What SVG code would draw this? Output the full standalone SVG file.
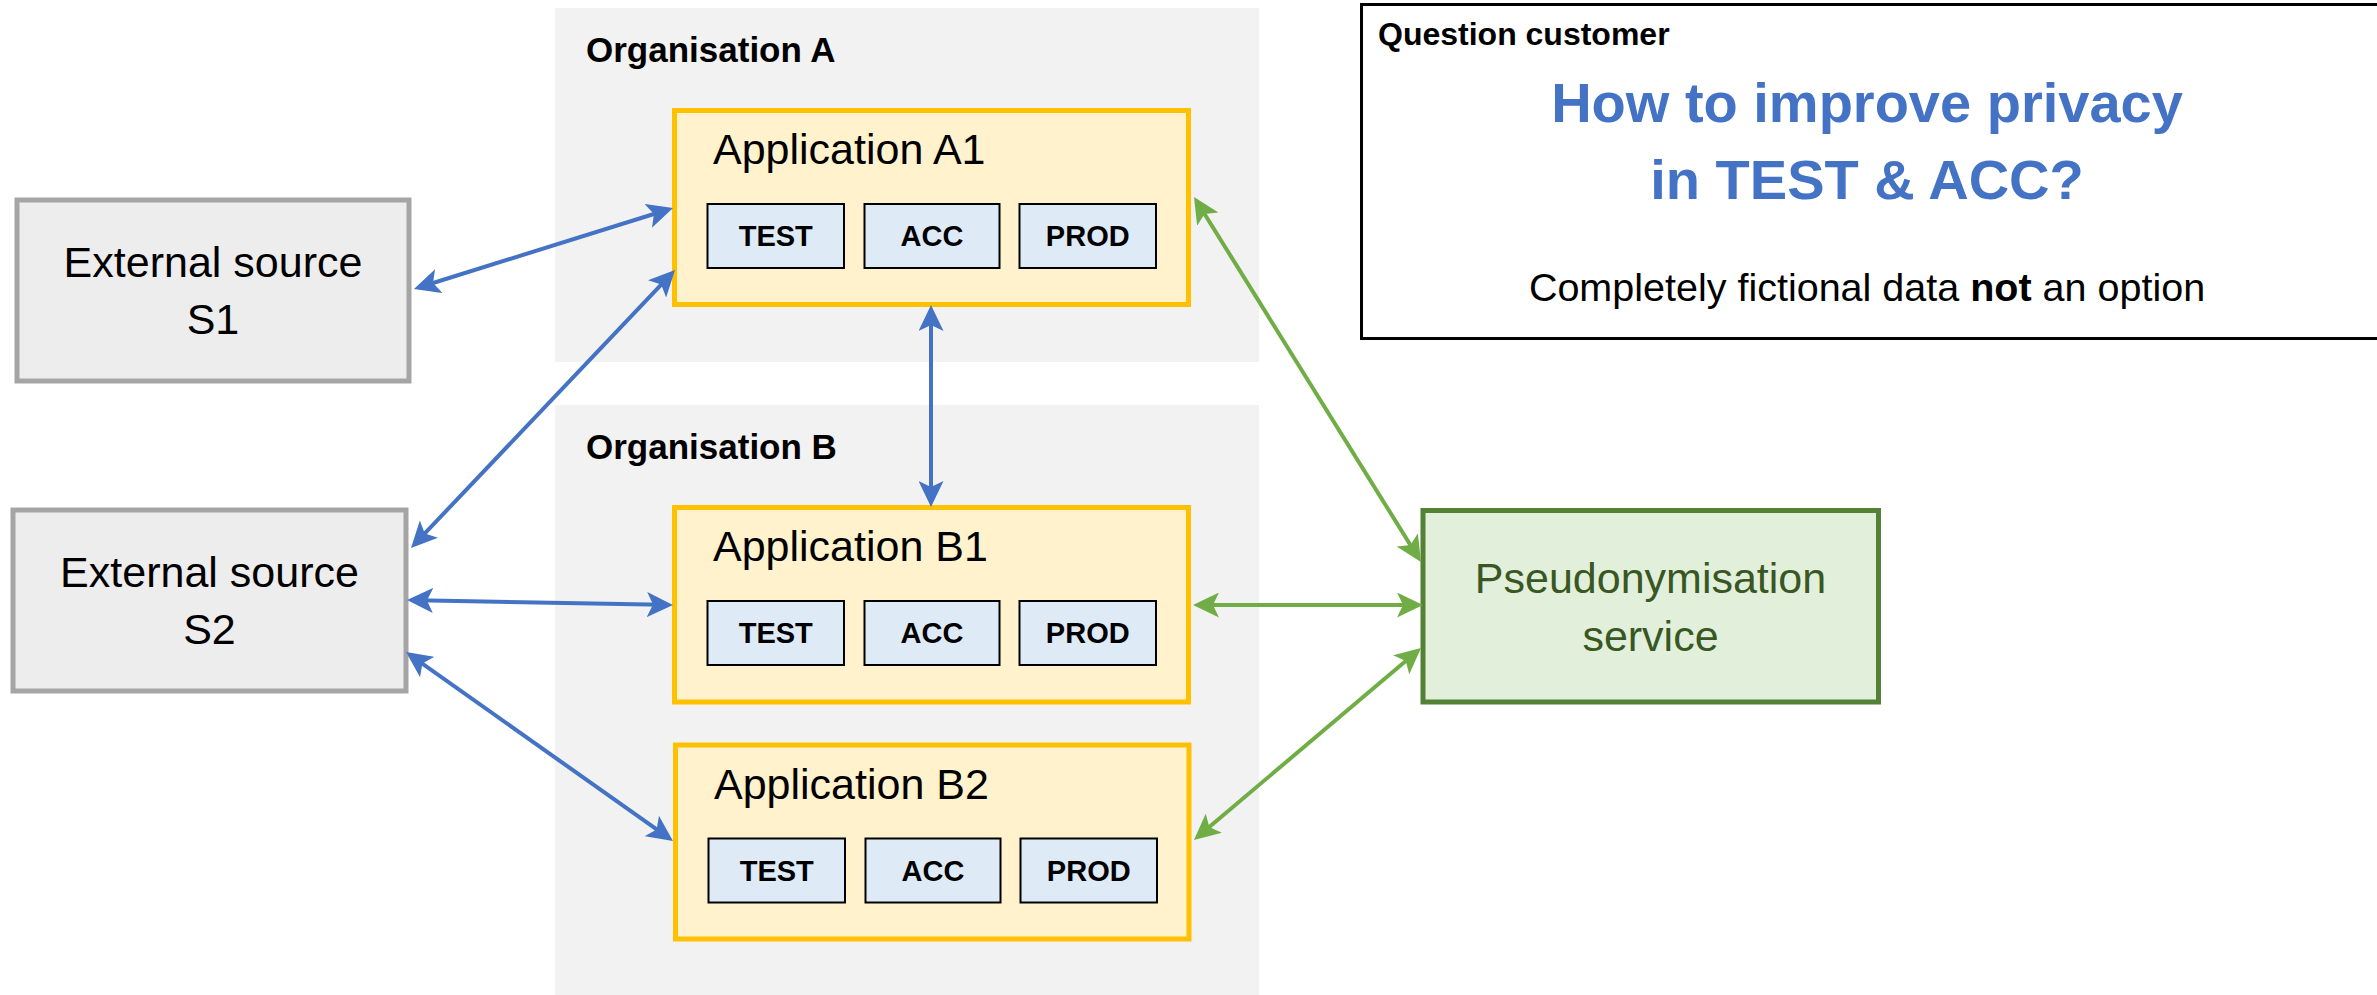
<svg xmlns="http://www.w3.org/2000/svg" width="2377" height="995" viewBox="0 0 2377 995">
<style>
text{font-family:"Liberation Sans",Arial,sans-serif;fill:#000}
.org{fill:#F2F2F2}
.orgl{font-size:35px;font-weight:bold}
.app{fill:#FFF2CC;stroke:#FFC000;stroke-width:5}
.appl{font-size:43px}
.env{fill:#DEEBF7;stroke:#000;stroke-width:2}
.envl{font-size:29px;font-weight:bold;text-anchor:middle}
.ext{fill:#EDEDED;stroke:#A5A5A5;stroke-width:5}
.extl{font-size:43px;text-anchor:middle}
.ps{fill:#E2EFDA;stroke:#538135;stroke-width:5}
.psl{font-size:43px;text-anchor:middle;fill:#385723}
.blue{stroke:#4472C4;stroke-width:4;fill:none;marker-start:url(#ab);marker-end:url(#ab)}
.green{stroke:#70AD47;stroke-width:4;fill:none;marker-start:url(#ag);marker-end:url(#ag)}
</style>
<defs>
<marker id="ab" viewBox="0 0 26 25" refX="16" refY="12.5" markerUnits="userSpaceOnUse" markerWidth="26" markerHeight="25" orient="auto-start-reverse">
<path d="M0,0 L26,12.5 L0,25 L6,12.5 z" fill="#4472C4"/>
</marker>
<marker id="ag" viewBox="0 0 26 25" refX="16" refY="12.5" markerUnits="userSpaceOnUse" markerWidth="26" markerHeight="25" orient="auto-start-reverse">
<path d="M0,0 L26,12.5 L0,25 L6,12.5 z" fill="#70AD47"/>
</marker>
</defs>
<rect width="2377" height="995" fill="#FFFFFF"/>
<g id="orgA">
<rect class="org" x="555" y="8" width="704" height="354"/>
<text class="orgl" x="586" y="62">Organisation A</text>
</g>
<g id="orgB">
<rect class="org" x="555" y="405" width="704" height="590"/>
<text class="orgl" x="586" y="459">Organisation B</text>
</g>
<g id="appA1">
<rect class="app" x="674.5" y="110.5" width="514" height="194"/>
<text class="appl" x="713" y="164">Application A1</text>
<rect class="env" x="707.5" y="204" width="136.5" height="64"/>
<text class="envl" x="775.75" y="246">TEST</text>
<rect class="env" x="864.5" y="204" width="135" height="64"/>
<text class="envl" x="932" y="246">ACC</text>
<rect class="env" x="1019.5" y="204" width="136.5" height="64"/>
<text class="envl" x="1087.75" y="246">PROD</text>
</g>
<g id="appB1">
<rect class="app" x="674.5" y="507.5" width="514" height="194.5"/>
<text class="appl" x="713" y="561">Application B1</text>
<rect class="env" x="707.5" y="601" width="136.5" height="64"/>
<text class="envl" x="775.75" y="643">TEST</text>
<rect class="env" x="864.5" y="601" width="135" height="64"/>
<text class="envl" x="932" y="643">ACC</text>
<rect class="env" x="1019.5" y="601" width="136.5" height="64"/>
<text class="envl" x="1087.75" y="643">PROD</text>
</g>
<g id="appB2">
<rect class="app" x="675.5" y="745" width="513.5" height="194"/>
<text class="appl" x="714" y="798.5">Application B2</text>
<rect class="env" x="708.5" y="838.5" width="136.5" height="64"/>
<text class="envl" x="776.75" y="880.5">TEST</text>
<rect class="env" x="865.5" y="838.5" width="135" height="64"/>
<text class="envl" x="933" y="880.5">ACC</text>
<rect class="env" x="1020.5" y="838.5" width="136.5" height="64"/>
<text class="envl" x="1088.75" y="880.5">PROD</text>
</g>
<g id="extS1">
<rect class="ext" x="17" y="200" width="392" height="181"/>
<text class="extl" x="213" y="277">External source</text>
<text class="extl" x="213" y="334">S1</text>
</g>
<g id="extS2">
<rect class="ext" x="13" y="510" width="393" height="181"/>
<text class="extl" x="209.5" y="587">External source</text>
<text class="extl" x="209.5" y="644">S2</text>
</g>
<g id="pseudo">
<rect class="ps" x="1423" y="510.5" width="455.5" height="191.5"/>
<text class="psl" x="1650.5" y="593">Pseudonymisation</text>
<text class="psl" x="1650.5" y="651">service</text>
</g>
<g id="question">
<rect x="1361.5" y="4.5" width="2008" height="334" fill="#FFFFFF" stroke="#000" stroke-width="3"/>
<text x="1378" y="45" style="font-size:32px;font-weight:bold">Question customer</text>
<text x="1867" y="122" style="font-size:56px;font-weight:bold;fill:#4472C4;text-anchor:middle">How to improve privacy</text>
<text x="1867" y="199" style="font-size:56px;font-weight:bold;fill:#4472C4;text-anchor:middle">in TEST &amp; ACC?</text>
<text x="1867" y="301" style="font-size:39.5px;text-anchor:middle">Completely fictional data <tspan font-weight="bold">not</tspan> an option</text>
</g>
<g id="connectors">
<path class="blue" d="M423.5,286 L663.5,211"/>
<path class="blue" d="M417.9,540.7 L668.1,277.3"/>
<path class="blue" d="M931,315 L931,497"/>
<path class="blue" d="M417,600.2 L663,604.8"/>
<path class="blue" d="M414.2,657.8 L664.8,835.2"/>
<path class="green" d="M1199.3,205.5 L1415.7,553.5"/>
<path class="green" d="M1203,605 L1413,605"/>
<path class="green" d="M1201.6,833.5 L1413.4,654.5"/>
</g>
</svg>
